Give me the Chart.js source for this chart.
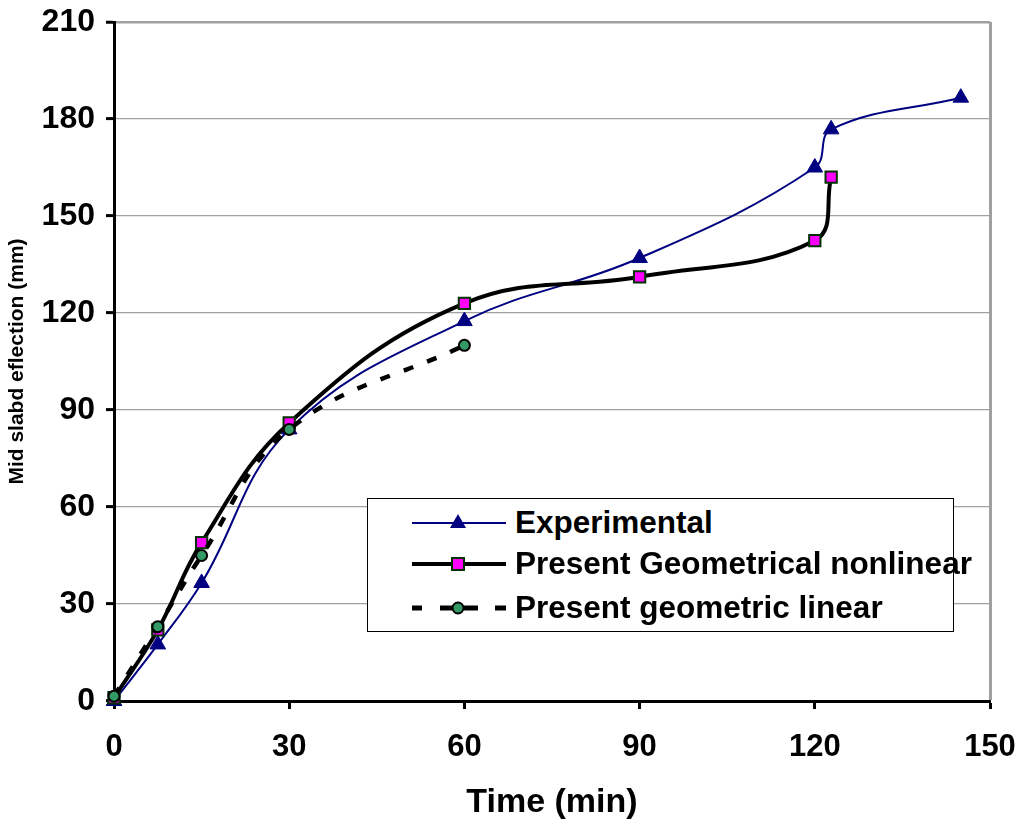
<!DOCTYPE html>
<html>
<head>
<meta charset="utf-8">
<script src="https://cdn.jsdelivr.net/npm/chart.js@4.4.1/dist/chart.umd.min.js"></script>
<style>
  html, body { margin: 0; padding: 0; background: #fff; }
  #wrap { position: relative; width: 1024px; height: 825px; overflow: hidden; }
  #c { position: absolute; left: 0; top: 0; }
  #legend {
    position: absolute; left: 367px; top: 498px; width: 587px; height: 134px;
    border: 1.5px solid #000; background: #fff; box-sizing: border-box; overflow: visible;
    font-family: Arial, 'Liberation Sans', sans-serif; font-weight: bold; font-size: 31.5px; color: #000;
  }
  .row { position: absolute; left: 0; height: 40px; white-space: nowrap; }
  .row svg { position: absolute; left: 44px; top: 0; }
  .row span { position: absolute; left: 147px; top: 50%; transform: translateY(-50%); line-height: 1; }
</style>
</head>
<body>
<div id="wrap">
  <canvas id="c" width="1024" height="825"></canvas>
  <div id="legend"></div>
</div>
<script>
// ---- data ----
const seriesNames = ['Experimental', 'Present Geometrical nonlinear', 'Present geometric linear'];

const expTime   = [0, 7.5, 15, 30, 60, 90, 120, 122.8, 145];
const expDefl   = [0, 17.5, 36.5, 84, 117.5, 137, 165, 176.8, 186.6];

const nonlinTime = [0, 7.5, 15, 30, 60, 90, 120, 122.8];
const nonlinDefl = [1, 22, 49, 86, 123, 131.2, 142.4, 162];

const linTime = [0, 7.5, 15, 30, 60];
const linDefl = [1.5, 23, 45, 84, 110];

const xTicks = [0, 30, 60, 90, 120, 150];
const yTicks = [0, 30, 60, 90, 120, 150, 180, 210];

const xTitle = 'Time (min)';
const yTitle = 'Mid slabd eflection (mm)';

const pts = (xs, ys) => xs.map((x, i) => ({ x: x, y: ys[i] }));

const NAVY = '#000080';
const MAGENTA = '#FF00FF';
const DKGREEN = '#003300';
const SEAGREEN = '#339966';
const GRID = '#a0a0a0';

const chart = new Chart(document.getElementById('c'), {
  type: 'line',
  data: {
    datasets: [
      {
        label: seriesNames[0], data: pts(expTime, expDefl), order: 3,
        borderColor: NAVY, borderWidth: 2, tension: 0.4,
        pointStyle: 'triangle', pointRadius: 9, pointBackgroundColor: NAVY, pointBorderColor: NAVY, pointBorderWidth: 1,
        clip: false
      },
      {
        label: seriesNames[1], data: pts(nonlinTime, nonlinDefl), order: 2,
        borderColor: '#000', borderWidth: 4, tension: 0.4,
        pointStyle: 'rect', pointRadius: 8, pointBackgroundColor: MAGENTA, pointBorderColor: DKGREEN, pointBorderWidth: 2,
        clip: false
      },
      {
        label: seriesNames[2], data: pts(linTime, linDefl), order: 1,
        borderColor: '#000', borderWidth: 4.5, borderDash: [10, 15], tension: 0.4, borderCapStyle: 'butt',
        pointStyle: 'circle', pointRadius: 5.5, pointBackgroundColor: SEAGREEN, pointBorderColor: '#000', pointBorderWidth: 2,
        clip: false
      }
    ]
  },
  options: {
    responsive: false,
    devicePixelRatio: 1,
    animation: false,
    layout: { padding: { top: 22, right: 34, left: 0, bottom: 0 } },
    plugins: { legend: { display: false }, tooltip: { enabled: false } },
    scales: {
      x: {
        type: 'linear', position: 'bottom', min: 0, max: 150,
        afterFit: (s) => { s.height = 124; s.paddingLeft = 0; s.paddingRight = 0; },
        afterBuildTicks: (s) => { s.ticks = xTicks.map(v => ({ value: v })); },
        border: { display: true, color: '#000', width: 3 },
        grid: {
          drawOnChartArea: true, drawTicks: true, tickLength: 8,
          color: (ctx) => (ctx.tick && ctx.tick.value === 150) ? GRID : 'rgba(0,0,0,0)',
          lineWidth: (ctx) => (ctx.tick && ctx.tick.value === 150) ? 3 : 1,
          tickColor: '#000', tickWidth: 3
        },
        ticks: {
          padding: 20, color: '#000', maxRotation: 0, autoSkip: false,
          font: { family: "Arial, 'Liberation Sans', sans-serif", weight: 'bold', size: 31 }
        },
        title: {
          display: true, text: xTitle, color: '#000', padding: { top: 0, bottom: 2 },
          font: { family: "Arial, 'Liberation Sans', sans-serif", weight: 'bold', size: 34 }
        }
      },
      y: {
        type: 'linear', min: 0, max: 210,
        afterFit: (s) => { s.width = 114; s.paddingTop = 0; s.paddingBottom = 0; },
        afterBuildTicks: (s) => { s.ticks = yTicks.map(v => ({ value: v })); },
        border: { display: true, color: '#000', width: 3 },
        grid: {
          drawTicks: true, tickLength: 8,
          color: (ctx) => (ctx.tick && ctx.tick.value === 0) ? 'rgba(0,0,0,0)' : GRID,
          lineWidth: (ctx) => (ctx.tick && ctx.tick.value === 210) ? 2.5 : 1.2,
          tickColor: '#000', tickWidth: 3
        },
        ticks: {
          padding: 11, color: '#000', autoSkip: false,
          font: { family: "Arial, 'Liberation Sans', sans-serif", weight: 'bold', size: 32 }
        },
        title: {
          display: true, text: yTitle, color: '#000', padding: { top: 5, bottom: 0 },
          font: { family: "Arial, 'Liberation Sans', sans-serif", weight: 'bold', size: 21 }
        }
      }
    }
  }
});

// ---- legend (HTML, text kept as real text) ----
const dashSeg = (x1, x2) => '<rect x="' + x1 + '" y="17.5" width="' + (x2 - x1) + '" height="5" fill="#000"/>';
const legendRows = [
  { top: 4,  svg: '<line x1="0" y1="20" x2="94" y2="20" stroke="' + NAVY + '" stroke-width="2"/><polygon points="46,11 54,25 38,25" fill="' + NAVY + '"/>' },
  { top: 45, svg: '<line x1="0" y1="20" x2="94" y2="20" stroke="#000" stroke-width="4"/><rect x="40" y="14" width="12" height="12" fill="' + MAGENTA + '" stroke="' + DKGREEN + '" stroke-width="2"/>' },
  { top: 89, svg: dashSeg(0, 10) + dashSeg(28, 40) + dashSeg(52, 66) + dashSeg(83, 94) + '<circle cx="46" cy="20" r="5.5" fill="' + SEAGREEN + '" stroke="#000" stroke-width="2"/>' }
];
const leg = document.getElementById('legend');
legendRows.forEach((r, i) => {
  const d = document.createElement('div');
  d.className = 'row';
  d.style.top = r.top + 'px';
  d.innerHTML = '<svg width="96" height="40">' + r.svg + '</svg><span>' + seriesNames[i] + '</span>';
  leg.appendChild(d);
});
</script>
</body>
</html>
